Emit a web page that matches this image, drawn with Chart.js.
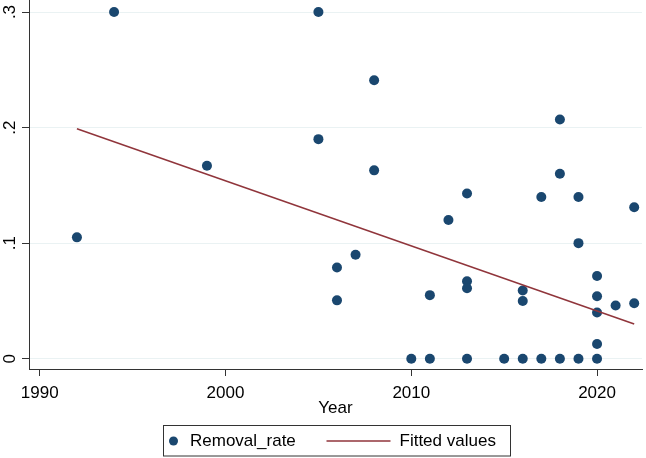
<!DOCTYPE html>
<html>
<head>
<meta charset="utf-8">
<script src="https://cdn.jsdelivr.net/npm/chart.js@4.4.0/dist/chart.umd.min.js"></script>
<style>
  body { margin: 0; background: #fff; }
  #wrap { width: 646px; height: 458px; }
</style>
</head>
<body>
<div id="wrap"><canvas id="myChart" width="646" height="458"></canvas></div>
<script>
// Removal_rate by year
const years = [1992, 1994, 1999, 2005, 2005, 2006, 2006, 2007, 2008, 2008,
               2010, 2011, 2011, 2012, 2013, 2013, 2013, 2013, 2015,
               2016, 2016, 2016, 2017, 2017, 2018, 2018, 2018,
               2019, 2019, 2019, 2020, 2020, 2020, 2020, 2020, 2021, 2022, 2022];
const rates = [0.105, 0.300, 0.167, 0.300, 0.190, 0.079, 0.0505, 0.090, 0.241, 0.163,
               0, 0.055, 0, 0.120, 0.143, 0.067, 0.061, 0, 0,
               0.059, 0.050, 0, 0.140, 0, 0.207, 0.160, 0,
               0.140, 0.100, 0, 0.0715, 0.054, 0.040, 0.0127, 0, 0.046, 0.131, 0.048];

// fitted values line, end points
const fitYears = [1992, 2022];
const fitValues = [0.199, 0.030];

const xTicks = [1990, 2000, 2010, 2020];
const yTicks = [0, 0.1, 0.2, 0.3];
const yTickLabels = ["0", ".1", ".2", ".3"];

const dotColor = "#1a476f";
const lineColor = "#90353b";
const FONT = "'Liberation Sans', Arial, sans-serif";

Chart.defaults.font.family = FONT;
Chart.defaults.font.size = 17;
Chart.defaults.color = "#000";

function toPoints(xs, ys) {
    return xs.map(function (x, i) { return { x: x, y: ys[i] }; });
}

// vertical tick labels on the y axis (Stata style)
const yLabelPlugin = {
    id: "yLabels",
    afterDraw: function (chart) {
        const ctx = chart.ctx;
        const y = chart.scales.y;
        ctx.save();
        ctx.font = "17px " + FONT;
        ctx.fillStyle = "#000";
        ctx.textAlign = "center";
        ctx.textBaseline = "middle";
        yTicks.forEach(function (v, i) {
            ctx.save();
            ctx.translate(10, y.getPixelForValue(v));
            ctx.rotate(-Math.PI / 2);
            ctx.fillText(yTickLabels[i], 0, 0);
            ctx.restore();
        });
        ctx.restore();
    }
};

// boxed legend below the axis title
const legendBoxPlugin = {
    id: "legendBox",
    afterDraw: function (chart) {
        const ctx = chart.ctx;
        const ds = chart.data.datasets;
        const cy = 441;
        ctx.save();
        ctx.strokeStyle = "#333";
        ctx.lineWidth = 1;
        ctx.strokeRect(163.5, 425.5, 347, 30.5);

        ctx.fillStyle = ds[0].backgroundColor;
        ctx.beginPath();
        ctx.arc(173.5, cy, 4.5, 0, Math.PI * 2);
        ctx.fill();

        ctx.strokeStyle = ds[1].borderColor;
        ctx.lineWidth = 1.5;
        ctx.beginPath();
        ctx.moveTo(326.5, cy);
        ctx.lineTo(390.5, cy);
        ctx.stroke();

        ctx.font = "17px " + FONT;
        ctx.fillStyle = "#000";
        ctx.textAlign = "left";
        ctx.textBaseline = "middle";
        ctx.fillText(ds[0].label, 190, cy);
        ctx.fillText(ds[1].label, 399.5, cy);
        ctx.restore();
    }
};

new Chart(document.getElementById("myChart"), {
    type: "scatter",
    data: {
        datasets: [{
            label: "Removal_rate",
            data: toPoints(years, rates),
            backgroundColor: dotColor,
            borderWidth: 0,
            pointRadius: 5,
            order: 2
        }, {
            type: "line",
            label: "Fitted values",
            data: toPoints(fitYears, fitValues),
            borderColor: lineColor,
            borderWidth: 1.5,
            pointRadius: 0,
            fill: false,
            order: 1
        }]
    },
    options: {
        responsive: false,
        animation: false,
        devicePixelRatio: 1,
        layout: { autoPadding: false, padding: { left: 0, right: 4, top: 0, bottom: 39 } },
        plugins: {
            legend: { display: false },
            tooltip: { enabled: false }
        },
        scales: {
            x: {
                type: "linear",
                min: 1989.42,
                max: 2022.42,
                afterBuildTicks: function (s) { s.ticks = xTicks.map(function (v) { return { value: v }; }); },
                afterFit: function (s) { s.height = 50; },
                ticks: {
                    padding: 7,
                    maxRotation: 0,
                    callback: function (v) { return String(v); }
                },
                grid: { drawOnChartArea: false, tickLength: 7, tickColor: "#333" },
                border: { color: "#333", width: 1 },
                title: { display: true, text: "Year", padding: { top: 0, bottom: 0 } }
            },
            y: {
                type: "linear",
                min: -0.0089,
                max: 0.3104,
                afterBuildTicks: function (s) { s.ticks = yTicks.map(function (v) { return { value: v }; }); },
                afterFit: function (s) { s.width = 29; },
                ticks: { display: false },
                grid: { color: "#eaf2f3", lineWidth: 1, tickLength: 7, tickColor: "#333" },
                border: { color: "#333", width: 1 }
            }
        }
    },
    plugins: [yLabelPlugin, legendBoxPlugin]
});
</script>
</body>
</html>
